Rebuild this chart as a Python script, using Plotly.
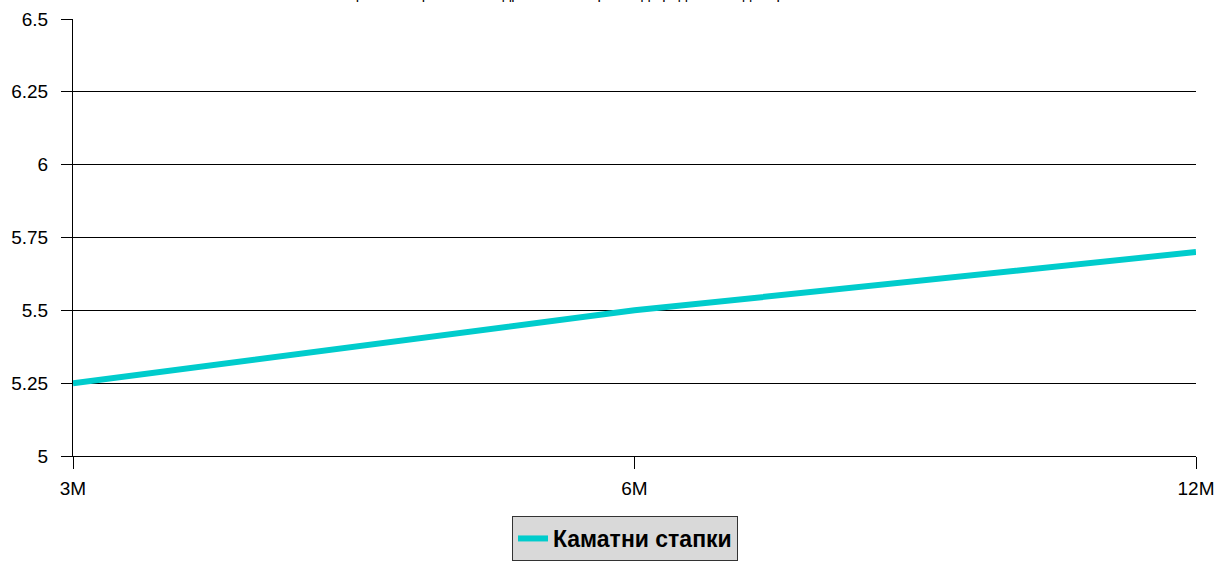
import plotly.graph_objects as go

categories = ["3M", "6M", "12M"]
rates = [5.25, 5.5, 5.7]
series_name = "Каматни стапки"
title_text = "Крива на приносот на државните хартии од вредност во денари"
y_ticks = [5, 5.25, 5.5, 5.75, 6, 6.25, 6.5]
y_tick_labels = ["5", "5.25", "5.5", "5.75", "6", "6.25", "6.5"]

W, H = 1221, 562
L, R, T, B = 73, 25, 19, 106
PW, PH = W - L - R, H - T - B

fig = go.Figure()
fig.add_trace(go.Scatter(
    x=categories, y=rates, mode="lines", name=series_name,
    line=dict(color="#00CCCC", width=6),
    showlegend=True,
))

fig.add_annotation(
    text=title_text, xref="paper", yref="paper",
    x=(570 - L) / PW, xanchor="center",
    y=1, yanchor="bottom", yshift=15,
    showarrow=False, font=dict(size=15, color="black"),
)

fig.update_layout(
    width=W, height=H,
    margin=dict(l=L, r=R, t=T, b=B, pad=0, autoexpand=False),
    paper_bgcolor="white", plot_bgcolor="white",
    font=dict(family="Liberation Sans, Arial, sans-serif", size=19, color="black"),
    showlegend=True,
    legend=dict(
        x=(512 - L) / PW, xanchor="left",
        y=-(516 - (H - B)) / PH, yanchor="top",
        orientation="h",
        bgcolor="#D9D9D9", bordercolor="#333333", borderwidth=1,
        font=dict(size=23, color="black", weight="bold"),
        itemwidth=30,
    ),
    xaxis=dict(
        type="category", range=[0, 2], automargin=False,
        showgrid=False, zeroline=False,
        showline=True, linecolor="black", linewidth=1,
        ticks="outside", ticklen=12, tickcolor="black", tickwidth=1,
        ticklabelstandoff=3,
        tickfont=dict(size=19),
    ),
    yaxis=dict(
        range=[5, 6.5], tickvals=y_ticks, ticktext=y_tick_labels,
        automargin=False,
        showgrid=True, gridcolor="black", gridwidth=1,
        zeroline=False,
        showline=True, linecolor="black", linewidth=1,
        ticks="outside", ticklen=11, tickcolor="black", tickwidth=1,
        ticklabelstandoff=9,
        tickfont=dict(size=19),
    ),
)

fig.write_html(
    "out.html",
    config={"displayModeBar": False},
    post_script="document.body.style.margin='0';document.body.style.overflow='hidden';",
)
